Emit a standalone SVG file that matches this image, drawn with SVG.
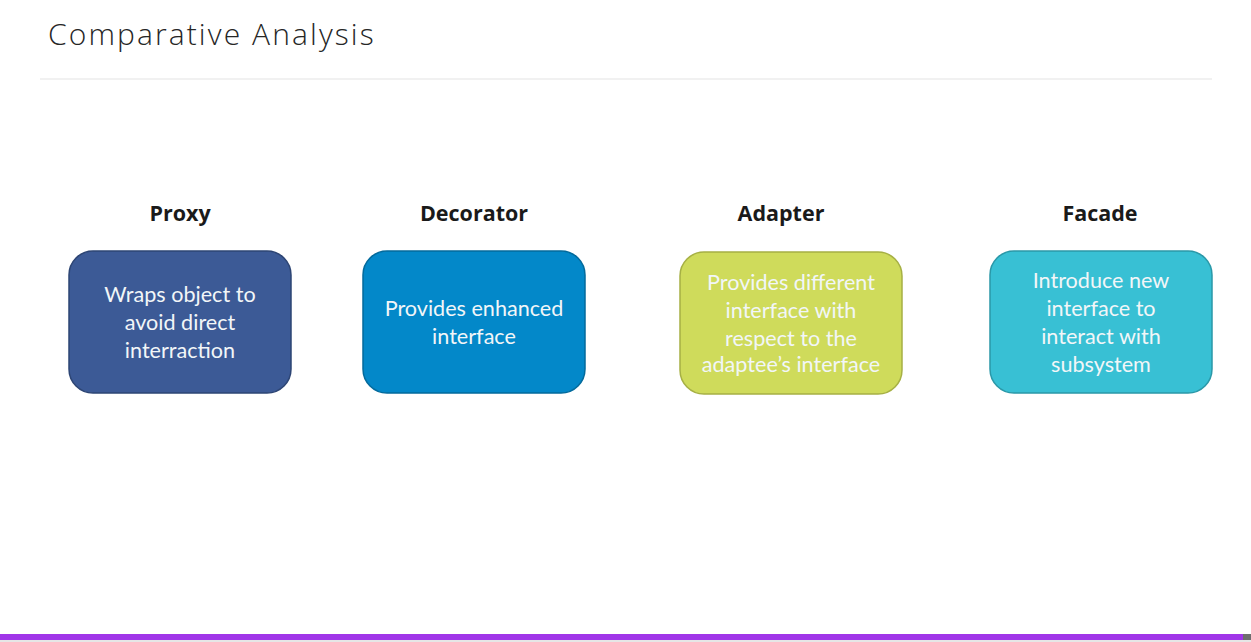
<svg xmlns="http://www.w3.org/2000/svg" width="1251" height="642" viewBox="0 0 1251 642">
<style>
.title{font-family:"Open Sans",sans-serif;font-weight:300;font-size:30px;fill:#262626;letter-spacing:2.1px}
.head{font-family:"Open Sans",sans-serif;font-weight:700;font-size:21.5px;fill:#1a1a1a;text-anchor:middle}
.box{stroke-width:1.5}
.txt{font-family:Lato,"Open Sans",sans-serif;font-size:21.6px;fill:#f2f6f8;text-anchor:middle}
</style>
<rect width="1251" height="642" fill="#ffffff"/>
<text class="title" x="48" y="45">Comparative Analysis</text>
<line x1="40" y1="79" x2="1212" y2="79" stroke="#ececec" stroke-width="1.5"/>
<g id="proxy">
<text class="head" x="180" y="221">Proxy</text>
<rect class="box" x="69" y="251" width="222" height="142" rx="24" fill="#3c5a96" stroke="#2d4574"/>
<text class="txt" x="180" y="302">Wraps object to</text>
<text class="txt" x="180" y="330">avoid direct</text>
<text class="txt" x="180" y="358">interraction</text>
</g>
<g id="decorator">
<text class="head" x="474" y="221">Decorator</text>
<rect class="box" x="363" y="251" width="222" height="142" rx="24" fill="#0388c9" stroke="#036a9c"/>
<text class="txt" x="474" y="316">Provides enhanced</text>
<text class="txt" x="474" y="344">interface</text>
</g>
<g id="adapter">
<text class="head" x="781" y="221">Adapter</text>
<rect class="box" x="680" y="252" width="222" height="142" rx="24" fill="#cfdb5b" stroke="#a6b044"/>
<text class="txt" x="791" y="290">Provides different</text>
<text class="txt" x="791" y="318">interface with</text>
<text class="txt" x="791" y="346">respect to the</text>
<text class="txt" x="791" y="372">adaptee’s interface</text>
</g>
<g id="facade">
<text class="head" x="1100" y="221">Facade</text>
<rect class="box" x="990" y="251" width="222" height="142" rx="24" fill="#38c0d4" stroke="#2a98a8"/>
<text class="txt" x="1101" y="288">Introduce new</text>
<text class="txt" x="1101" y="316">interface to</text>
<text class="txt" x="1101" y="344">interact with</text>
<text class="txt" x="1101" y="372">subsystem</text>
</g>
<g id="connectors"></g>
<rect x="0" y="634" width="1243" height="6" fill="#a035e8"/>
<rect x="1243" y="634" width="8" height="6" fill="#6e6e6e"/>
<rect x="0" y="640" width="1251" height="2" fill="#e6e6e6"/>
</svg>
